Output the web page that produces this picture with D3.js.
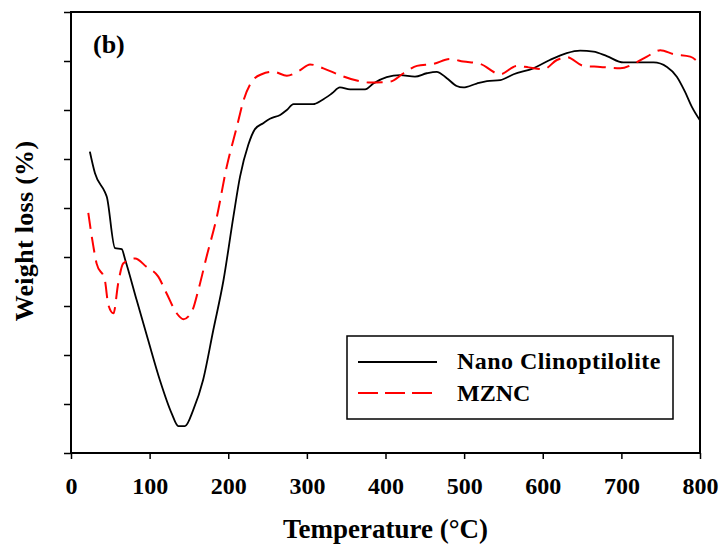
<!DOCTYPE html>
<html>
<head>
<meta charset="utf-8">
<script src="https://cdn.jsdelivr.net/npm/d3@7"></script>
<style>
  html, body { margin: 0; padding: 0; background: #fff; }
  svg { display: block; }
  text { font-family: "Liberation Serif", "Times New Roman", serif; font-weight: bold; fill: #000; }
</style>
</head>
<body>
<svg id="chart" width="720" height="546"></svg>
<script>
// ---- data (temperature °C, relative weight-loss units) ----
const xTicks = [0, 100, 200, 300, 400, 500, 600, 700, 800];
const yTicks = [0, 1, 2, 3, 4, 5, 6, 7, 8, 9];

const nanoT = [24, 30.5, 43, 45.5, 56, 64.5, 69, 83.5, 98, 113, 128, 136.5, 145, 155.5, 168, 181, 194, 206.5, 215, 225.5, 234, 244.5, 253, 266, 274.5, 283, 308, 319, 332, 342, 355, 374, 384.5, 401.5, 418.5, 437.5, 452.5, 465, 478, 490.5, 499, 516, 529, 546, 563, 588, 609, 630.5, 647.5, 664.5, 681.5, 702.5, 720, 741, 758, 770.5, 781, 789.5, 799.5];
const nanoW = [6.15, 5.71, 5.33, 5.23, 4.18, 4.16, 3.94, 3.12, 2.31, 1.49, 0.81, 0.55, 0.55, 0.88, 1.49, 2.51, 3.53, 4.82, 5.64, 6.29, 6.61, 6.73, 6.82, 6.90, 7.0, 7.12, 7.12, 7.2, 7.34, 7.46, 7.42, 7.42, 7.54, 7.67, 7.71, 7.68, 7.75, 7.78, 7.65, 7.49, 7.46, 7.54, 7.59, 7.61, 7.73, 7.85, 8.02, 8.16, 8.21, 8.19, 8.10, 7.97, 7.97, 7.97, 7.88, 7.68, 7.37, 7.07, 6.80];

const mzncT = [22, 28.5, 32.5, 43, 47.5, 54, 60, 66.5, 81.5, 96, 111, 121.5, 134.5, 143, 153.5, 162, 172.5, 185.5, 198, 211, 219.5, 230, 242.5, 257.5, 274.5, 291, 304, 321, 342, 363.5, 380.5, 406, 423, 440, 461, 482, 499, 520.5, 546, 567, 582, 601, 618, 630.5, 652, 673, 698.5, 715.5, 732.5, 749.5, 766.5, 787.5, 800];
const mzncW = [4.90, 4.21, 3.87, 3.53, 3.02, 2.85, 3.46, 3.87, 3.97, 3.80, 3.60, 3.26, 2.85, 2.73, 2.88, 3.33, 4.01, 4.82, 5.84, 6.66, 7.20, 7.58, 7.73, 7.78, 7.70, 7.81, 7.93, 7.85, 7.71, 7.60, 7.56, 7.58, 7.75, 7.90, 7.94, 8.04, 7.99, 7.94, 7.73, 7.90, 7.87, 7.83, 8.02, 8.08, 7.90, 7.88, 7.85, 7.94, 8.09, 8.22, 8.14, 8.09, 7.94];

const seriesNames = ["Nano Clinoptilolite", "MZNC"];

// ---- layout ----
const svg = d3.select("#chart");
const L = 71, R = 700, T = 12, B = 453;
const x = d3.scaleLinear().domain([0, 800]).range([L, R]);
const y = d3.scaleLinear().domain([0, 9]).range([B, T]);

// x axis
const xAxis = svg.append("g").attr("transform", `translate(0,${B})`)
  .call(d3.axisBottom(x).tickValues(xTicks).tickSize(6).tickPadding(18).tickFormat(d3.format("d")));
xAxis.select(".domain").remove();
xAxis.selectAll("line").attr("stroke", "#000").attr("stroke-width", 1.5);
xAxis.selectAll("text").attr("font-size", 24).attr("font-family", "Liberation Serif").attr("font-weight", "bold").attr("fill", "#000");

// y axis (ticks only, no labels)
const yAxis = svg.append("g").attr("transform", `translate(${L},0)`)
  .call(d3.axisLeft(y).tickValues(yTicks).tickSize(7).tickFormat(""));
yAxis.select(".domain").remove();
yAxis.selectAll("line").attr("stroke", "#000").attr("stroke-width", 1.5);

// frame
svg.append("rect").attr("x", L).attr("y", T).attr("width", R - L).attr("height", B - T)
  .attr("fill", "none").attr("stroke", "#000").attr("stroke-width", 2);

// lines
const line = d3.line().x(d => x(d[0])).y(d => y(d[1])).curve(d3.curveMonotoneX);
const nano = nanoT.map((t, i) => [t, nanoW[i]]);
const mznc = mzncT.map((t, i) => [t, mzncW[i]]);

svg.append("path").datum(nano).attr("d", line).attr("fill", "none")
  .attr("stroke", "#000").attr("stroke-width", 1.8);
svg.append("path").datum(mznc).attr("d", line).attr("fill", "none")
  .attr("stroke", "#ff0000").attr("stroke-width", 2).attr("stroke-dasharray", "16,8");

// panel label
svg.append("text").attr("x", 93).attr("y", 53).attr("font-size", 26).text("(b)");

// axis titles
svg.append("text").attr("x", (L + R) / 2).attr("y", 538).attr("text-anchor", "middle")
  .attr("font-size", 27).text("Temperature (°C)");
svg.append("text").attr("transform", "translate(33,231) rotate(-90)").attr("text-anchor", "middle")
  .attr("font-size", 26).attr("letter-spacing", 0.3).text("Weight loss (%)");

// legend
const lg = svg.append("g");
lg.append("rect").attr("x", 347).attr("y", 336).attr("width", 326).attr("height", 83)
  .attr("fill", "#fff").attr("stroke", "#000").attr("stroke-width", 1.5);
lg.append("line").attr("x1", 358).attr("x2", 437).attr("y1", 362).attr("y2", 362)
  .attr("stroke", "#000").attr("stroke-width", 1.8);
lg.append("line").attr("x1", 358).attr("x2", 437).attr("y1", 393).attr("y2", 393)
  .attr("stroke", "#ff0000").attr("stroke-width", 2).attr("stroke-dasharray", "20,7");
lg.append("text").attr("x", 457).attr("y", 369).attr("font-size", 24).attr("letter-spacing", 0.45).text(seriesNames[0]);
lg.append("text").attr("x", 457).attr("y", 401).attr("font-size", 24).text(seriesNames[1]);
</script>
</body>
</html>
